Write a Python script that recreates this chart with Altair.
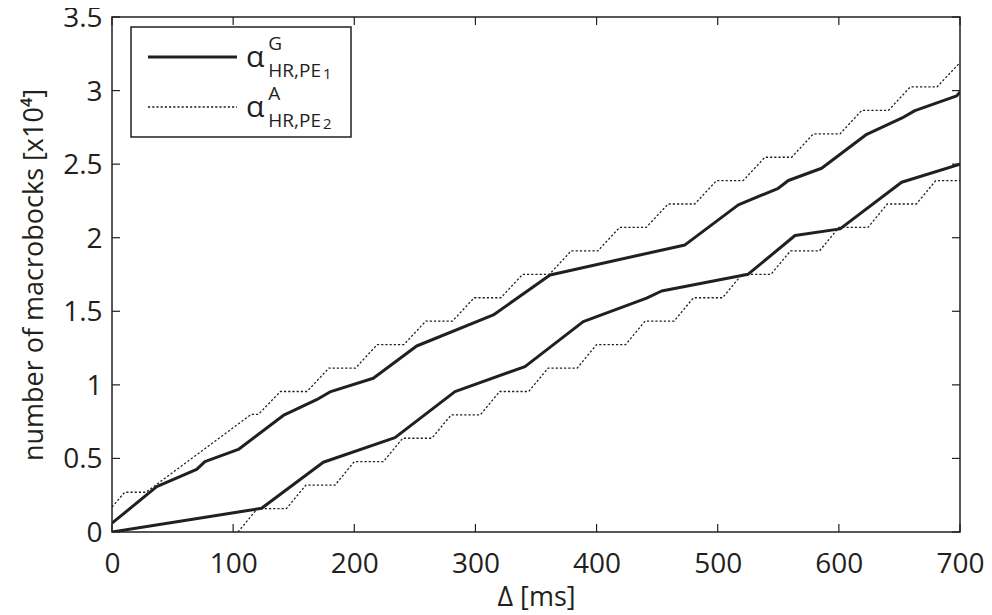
import altair as alt
import pandas as pd

# ---- data ----
g_upper_x = [0, 36.9, 69.9, 76.7, 104.3, 141.4, 168.9, 179.9, 215.7, 251.5, 314.8, 361.6,
             473, 517, 550, 558.3, 585.8, 623, 651.8, 662.8, 697.3, 700]
g_upper_y = [0.06, 0.308, 0.425, 0.478, 0.561, 0.792, 0.899, 0.952, 1.045, 1.264, 1.475, 1.747,
             1.951, 2.223, 2.336, 2.389, 2.472, 2.703, 2.812, 2.864, 2.964, 2.99]

g_lower_x = [0, 123.5, 174.4, 233.6, 283.1, 340.9, 389, 441.3, 453.7, 525.2, 563.8, 601, 651.8, 700]
g_lower_y = [0, 0.161, 0.474, 0.641, 0.954, 1.124, 1.43, 1.589, 1.638, 1.752, 2.015, 2.06, 2.377, 2.50]

a_upper_x = [0, 10.5, 28, 115, 121, 139, 161, 179, 201, 219, 241, 259, 281, 299, 321, 339, 361,
             379, 401, 419, 441, 459, 481, 499, 521, 539, 561, 579, 601, 619, 641, 659, 681, 700]
a_upper_y = [0.17, 0.27, 0.27, 0.80, 0.80, 0.955, 0.955, 1.114, 1.114, 1.274, 1.274, 1.433, 1.433,
             1.592, 1.592, 1.751, 1.751, 1.910, 1.910, 2.070, 2.070, 2.229, 2.229, 2.388, 2.388,
             2.547, 2.547, 2.706, 2.706, 2.866, 2.866, 3.025, 3.025, 3.19]

a_lower_x = [104, 120, 144, 160, 184, 200, 224, 240, 264, 280, 304, 320, 344, 360, 384, 400, 424,
             440, 464, 480, 504, 520, 544, 560, 584, 600, 624, 640, 664, 680, 700]
a_lower_y = [0, 0.159, 0.159, 0.318, 0.318, 0.478, 0.478, 0.637, 0.637, 0.796, 0.796, 0.955, 0.955,
             1.114, 1.114, 1.274, 1.274, 1.433, 1.433, 1.592, 1.592, 1.751, 1.751, 1.910, 1.910,
             2.070, 2.070, 2.229, 2.229, 2.388, 2.388]

x_ticks = [0, 100, 200, 300, 400, 500, 600, 700]
y_ticks = [0, 0.5, 1, 1.5, 2, 2.5, 3, 3.5]

x_title = "\u0394 [ms]"
y_title = "number of macrobocks [x10\u2074]"
legend_sup = ["G", "A"]
legend_sub = ["HR,PE", "HR,PE"]
legend_subsub = ["1", "2"]

INK = "#231f20"
FONT = "Open Sans"
W, H = 848, 515

xs = alt.Scale(domain=[0, 700], nice=False, zero=False)
ys = alt.Scale(domain=[0, 3.5], nice=False, zero=False)
xaxis = alt.Axis(values=x_ticks, title=x_title, format="d", labelBaseline="alphabetic",
                 labelPadding=40, titlePadding=6, labelFlush=False, labelOverlap=False)
yaxis = alt.Axis(values=y_ticks, title=y_title, format="~g", labelPadding=10, titlePadding=14,
                 labelFlush=False, labelOverlap=False, labelOffset=1.5)


def X(field="x"):
    return alt.X(f"{field}:Q", scale=xs, axis=xaxis)


def Y(field="y"):
    return alt.Y(f"{field}:Q", scale=ys, axis=yaxis)


def line(xv, yv, solid):
    df = pd.DataFrame({"x": xv, "y": yv, "i": range(len(xv))})
    if solid:
        m = alt.Chart(df).mark_line(color=INK, strokeWidth=3, clip=True, strokeJoin="round")
    else:
        m = alt.Chart(df).mark_line(color=INK, strokeWidth=1.3, strokeDash=[2.2, 2], clip=True)
    return m.encode(x=X(), y=Y(), order="i:Q")


lines = [
    line(a_upper_x, a_upper_y, False),
    line(a_lower_x, a_lower_y, False),
    line(g_upper_x, g_upper_y, True),
    line(g_lower_x, g_lower_y, True),
]

xt = pd.DataFrame({"x": x_ticks})
yt = pd.DataFrame({"y": y_ticks})
tick_layers = [
    alt.Chart(xt).mark_rule(color=INK, strokeWidth=1.2).encode(x=X(), y=alt.value(H), y2=alt.value(H - 8)),
    alt.Chart(xt).mark_rule(color=INK, strokeWidth=1.2).encode(x=X(), y=alt.value(0), y2=alt.value(8)),
    alt.Chart(yt).mark_rule(color=INK, strokeWidth=1.2).encode(y=Y(), x=alt.value(0), x2=alt.value(8)),
    alt.Chart(yt).mark_rule(color=INK, strokeWidth=1.2).encode(y=Y(), x=alt.value(W), x2=alt.value(W - 8)),
]

one = pd.DataFrame({"k": [0]})
legend_layers = [
    alt.Chart(one).mark_rect(fill="white", stroke=INK, strokeWidth=1.5).encode(
        x=alt.value(19), x2=alt.value(239), y=alt.value(10), y2=alt.value(120)),
    alt.Chart(one).mark_rule(color=INK, strokeWidth=3).encode(
        x=alt.value(36), x2=alt.value(125), y=alt.value(40)),
    alt.Chart(one).mark_rule(color=INK, strokeWidth=1.3, strokeDash=[2.2, 2]).encode(
        x=alt.value(36), x2=alt.value(125), y=alt.value(90)),
]
for row in range(2):
    dy = row * 50
    for txt, xx, yy, fs in [
        ("\u03b1", 134.0, 49.7 + dy, 30),
        (legend_sup[row], 156.3, 33 + dy, 19),
        (legend_sub[row], 156.3, 59.7 + dy, 19),
        (legend_subsub[row], 211, 62 + dy, 15),
    ]:
        legend_layers.append(
            alt.Chart(one).mark_text(text=txt, align="left", baseline="alphabetic", font=FONT,
                                     fontSize=fs, color=INK).encode(x=alt.value(xx), y=alt.value(yy))
        )

chart = alt.layer(*lines, *tick_layers, *legend_layers).properties(
    width=W, height=H,
    autosize=alt.AutoSizeParams(type="none"),
    padding={"left": 104, "top": 9, "right": 24, "bottom": 80},
    background="white",
).configure_view(stroke=INK, strokeWidth=1.5).configure_axis(
    domain=False, ticks=False, tickSize=0, grid=False,
    labelFont=FONT, labelFontSize=28, labelColor=INK,
    titleFont=FONT, titleFontSize=27, titleFontWeight="normal", titleColor=INK,
)

chart.save("out.html", embed_options={"renderer": "svg", "actions": False})
